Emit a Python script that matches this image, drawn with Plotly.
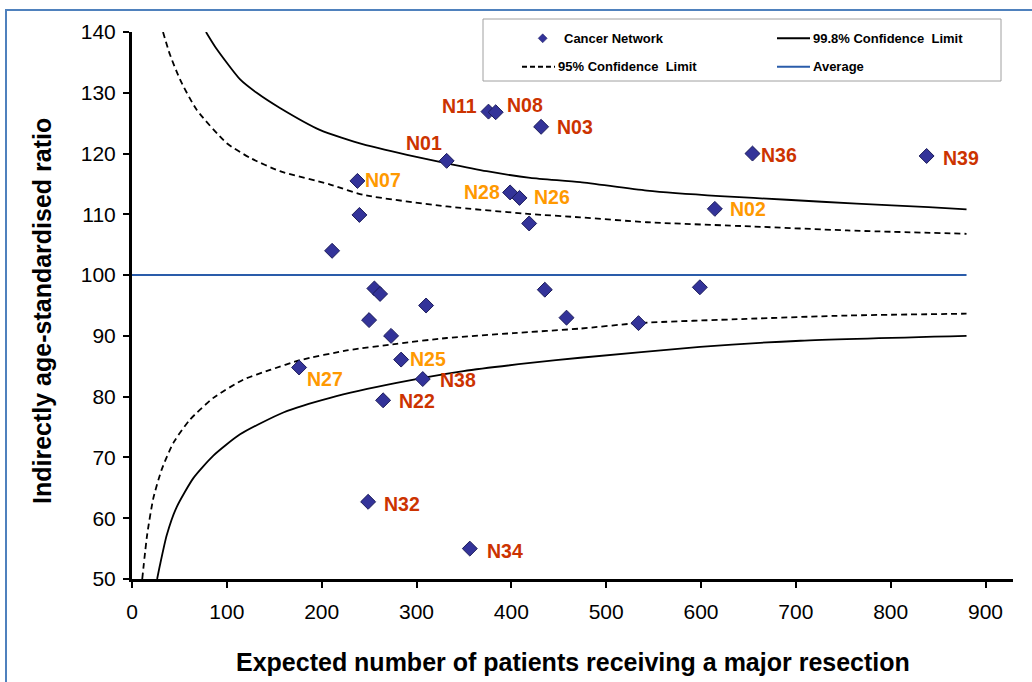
import plotly.graph_objects as go

# Cancer networks: expected major resections vs indirectly age-standardised ratio
network_expected = [375.9, 383.5, 431.4, 331.8, 237.7, 239.8, 211.0, 398.7, 408.6, 418.8,
                    255.6, 261.6, 310.1, 435.3, 458.2, 250.0, 273.2, 283.8, 176.2, 306.6,
                    264.8, 249.0, 356.2, 654.3, 837.9, 614.6, 598.8, 534.1]
network_ratio = [126.9, 126.8, 124.4, 118.8, 115.5, 109.9, 104.0, 113.6, 112.7, 108.5,
                 97.8, 96.9, 95.0, 97.6, 93.0, 92.6, 90.0, 86.1, 84.8, 82.9,
                 79.4, 62.7, 55.0, 120.0, 119.6, 110.9, 98.0, 92.1]
network_label = ["N11", "N08", "N03", "N01", "N07", "", "", "N28", "N26", "",
                 "", "", "", "", "", "", "", "N25", "N27", "N38",
                 "N22", "N32", "N34", "N36", "N39", "N02", "", ""]
# limit exceeded by each labelled network
network_level = ["99.8", "99.8", "99.8", "99.8", "95", "", "", "95", "95", "",
                 "", "", "", "", "", "", "", "95", "95", "99.8",
                 "99.8", "99.8", "99.8", "99.8", "99.8", "95", "", ""]

# Funnel limits
upper998_x = [78, 88, 114, 131.5, 156, 198, 244, 290, 332, 374, 420, 472.6, 543, 620, 690.6, 764, 840, 880]
upper998_y = [140, 137.5, 132.2, 130.0, 127.5, 123.9, 121.5, 119.8, 118.4, 117.1, 116.0, 115.3, 113.9,
              113.0, 112.4, 111.75, 111.2, 110.8]
upper95_x = [32.7, 40, 50.6, 68.2, 100, 124.5, 156, 209, 244, 332, 420, 472.6, 543, 655, 754, 880]
upper95_y = [140, 136.3, 132.2, 127.2, 121.7, 119.3, 117.1, 114.9, 113.2, 111.3, 110.05, 109.5, 108.7,
             108.0, 107.35, 106.8]
lower95_x = [10.8, 16, 22.5, 31.3, 43.6, 61, 85.8, 117.4, 145.6, 177, 226.5, 279, 332, 402, 472.6,
             534, 648, 754, 880]
lower95_y = [50, 57.3, 63.3, 68.0, 72.4, 76.2, 79.8, 82.8, 84.4, 86.0, 87.6, 88.7, 89.65, 90.45, 91.2,
             92.1, 92.8, 93.35, 93.65]
lower998_x = [26.5, 29.5, 36.6, 47, 64.7, 85.8, 114, 159.6, 209, 279, 349.5, 420, 472.6, 599, 705, 880]
lower998_y = [50, 52.3, 57.2, 61.8, 66.6, 70.3, 73.8, 77.4, 79.8, 82.25, 84.2, 85.55, 86.4, 88.2, 89.2, 90.0]
average_x = [0, 880]
average_y = [100, 100]

x_ticks = [0, 100, 200, 300, 400, 500, 600, 700, 800, 900]
y_ticks = [50, 60, 70, 80, 90, 100, 110, 120, 130, 140]

FONT = "Arial, Liberation Sans, sans-serif"
MARKER_FILL = "#333399"
LEVEL_COLOURS = {"99.8": "#CC3300", "95": "#FF9900"}
# label placement around its marker: (xanchor, xshift px, yshift px)
LABEL_PLACEMENT = {
    "N11": ("right", -9, 6), "N08": ("left", 9, 7), "N03": ("left", 14, 0),
    "N01": ("right", -3, 18), "N07": ("left", 6, 1), "N28": ("right", -8, 0),
    "N26": ("left", 13, 1), "N02": ("left", 13, 0), "N36": ("left", 7, -1),
    "N39": ("left", 14, -2), "N25": ("left", 7, 1), "N27": ("left", 6, -12),
    "N38": ("left", 15, -1), "N22": ("left", 14, -1), "N32": ("left", 14, -2),
    "N34": ("left", 15, -2),
}

W, H = 1032, 682
ML, MR, MT, MB = 132, 19, 32, 103
PW, PH = W - ML - MR, H - MT - MB


def px(x):
    return (x - ML) / PW


def py(y):
    return (H - MB - y) / PH


fig = go.Figure()

line_style = dict(color="black", width=1.8, shape="spline", smoothing=0.6)
dash_style = dict(color="black", width=1.8, dash="6px,4px", shape="spline", smoothing=0.6)

fig.add_trace(go.Scatter(x=upper998_x, y=upper998_y, mode="lines", line=line_style,
                         name="99.8% Confidence Limit", hoverinfo="skip"))
fig.add_trace(go.Scatter(x=lower998_x, y=lower998_y, mode="lines", line=line_style,
                         showlegend=False, hoverinfo="skip"))
fig.add_trace(go.Scatter(x=upper95_x, y=upper95_y, mode="lines", line=dash_style,
                         name="95% Confidence Limit", hoverinfo="skip"))
fig.add_trace(go.Scatter(x=lower95_x, y=lower95_y, mode="lines", line=dash_style,
                         showlegend=False, hoverinfo="skip"))
fig.add_trace(go.Scatter(x=average_x, y=average_y, mode="lines",
                         line=dict(color="#2A5CAA", width=2), name="Average"))
fig.add_trace(go.Scatter(
    x=network_expected, y=network_ratio, mode="markers", name="Cancer Network",
    marker=dict(symbol="diamond", size=11.5, color=MARKER_FILL,
                line=dict(color="#1C1C5A", width=1)),
    text=network_label,
))

annotations = []
for xv, yv, lab, lev in zip(network_expected, network_ratio, network_label, network_level):
    if not lab:
        continue
    anchor, dx, dy = LABEL_PLACEMENT[lab]
    annotations.append(dict(
        x=xv, y=yv, xref="x", yref="y", text=lab, showarrow=False,
        xanchor=anchor, yanchor="middle", xshift=dx, yshift=dy,
        font=dict(family=FONT, size=19.5, color=LEVEL_COLOURS[lev], weight="bold"),
    ))

# axis titles
annotations.append(dict(
    x=px(573), y=py(662), xref="paper", yref="paper", showarrow=False,
    text="Expected number of patients receiving a major resection",
    xanchor="center", yanchor="middle",
    font=dict(family=FONT, size=25, color="black", weight="bold"),
))
annotations.append(dict(
    x=px(42), y=py(311), xref="paper", yref="paper", showarrow=False,
    text="Indirectly age-standardised ratio", textangle=-90,
    xanchor="center", yanchor="middle",
    font=dict(family=FONT, size=25, color="black", weight="bold"),
))

# legend box contents
legend_font = dict(family=FONT, size=13, color="black", weight="bold")
row1, row2 = 38.3, 66.7
for text, x0, yrow in [("Cancer Network", 562, row1), ("95% Confidence  Limit", 556, row2),
                       ("99.8% Confidence  Limit", 811, row1), ("Average", 811, row2)]:
    annotations.append(dict(x=px(x0), y=py(yrow), xref="paper", yref="paper", text=text,
                            showarrow=False, xanchor="left", yanchor="middle", font=legend_font))

shapes = [
    # outer frame
    dict(type="rect", xref="paper", yref="paper", x0=px(6), x1=px(1045), y0=py(695), y1=py(10),
         line=dict(color="#4F81BD", width=2), fillcolor="rgba(0,0,0,0)", layer="below"),
    # legend frame
    dict(type="rect", xref="paper", yref="paper", x0=px(483), x1=px(1001), y0=py(81), y1=py(19),
         line=dict(color="#A0A0A0", width=1), fillcolor="white", layer="below"),
    dict(type="line", xref="paper", yref="paper", x0=px(522), x1=px(555), y0=py(row2), y1=py(row2),
         line=dict(color="black", width=2, dash="5px,3px")),
    dict(type="line", xref="paper", yref="paper", x0=px(777), x1=px(810), y0=py(row1), y1=py(row1),
         line=dict(color="black", width=2)),
    dict(type="line", xref="paper", yref="paper", x0=px(777), x1=px(810), y0=py(row2), y1=py(row2),
         line=dict(color="#2A5CAA", width=2)),
]
cx, cy, r = 542.7, row1, 4.5
shapes.append(dict(
    type="path", xref="paper", yref="paper",
    path=f"M {px(cx)},{py(cy - r)} L {px(cx + r)},{py(cy)} L {px(cx)},{py(cy + r)} L {px(cx - r)},{py(cy)} Z",
    fillcolor=MARKER_FILL, line=dict(color="#1C1C5A", width=0.5),
))

axis_common = dict(
    showline=True, linewidth=3, linecolor="black", mirror=False,
    ticks="outside", ticklen=6, tickwidth=2, tickcolor="black",
    showgrid=False, zeroline=False,
    tickfont=dict(family=FONT, size=21, color="black"),
)

fig.update_layout(
    width=W, height=H,
    margin=dict(l=ML, r=MR, t=MT, b=MB, autoexpand=False),
    paper_bgcolor="white", plot_bgcolor="white",
    showlegend=False,
    xaxis=dict(range=[0, 929], tickvals=x_ticks, ticklabelstandoff=6, **axis_common),
    yaxis=dict(range=[50, 140], tickvals=y_ticks, ticklabelstandoff=3, **axis_common),
    annotations=annotations,
    shapes=shapes,
)

fig.write_html("out.html")
